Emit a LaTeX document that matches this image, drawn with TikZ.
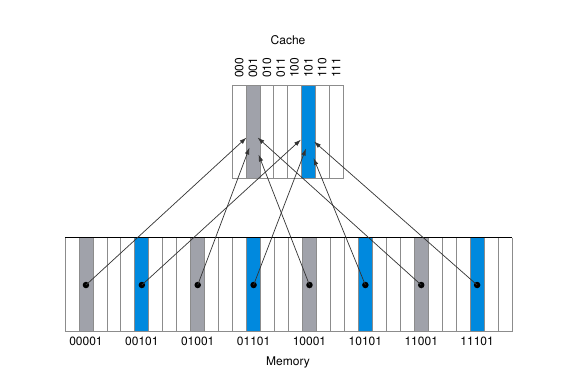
\documentclass[tikz,border=0pt]{standalone}
\usepackage{fontspec}
\setmainfont{TeX Gyre Heros}
\usetikzlibrary{arrows.meta}
\definecolor{slotgray}{RGB}{160,162,170}
\definecolor{slotblue}{RGB}{0,137,222}
\definecolor{divgray}{RGB}{140,140,140}
\begin{document}
\begin{tikzpicture}[x=1pt,y=-1pt,
  lbl/.style={font=\fontsize{12}{14}\selectfont, text=black, inner sep=0pt},
  dotnode/.style={circle, fill=black, inner sep=0pt, minimum size=6.5pt},
  divider/.style={draw=divgray, line width=0.8pt},
  mapline/.style={draw=black!80, line width=0.7pt, -{Latex[length=7pt,width=4.5pt]}}]
\useasboundingbox (0,0) rectangle (564,381);
\fill[white] (0,0) rectangle (564,381);
% ---------- Cache ----------
\def\cx{232.3}\def\cw{13.84}\def\ct{85}\def\cb{178.5}
\fill[slotgray] ({\cx+1*\cw},\ct) rectangle ({\cx+2*\cw},\cb);
\fill[slotblue] ({\cx+5*\cw},\ct) rectangle ({\cx+6*\cw},\cb);
\foreach \i in {1,...,7} \draw[divider] ({\cx+\i*\cw},\ct) -- ({\cx+\i*\cw},\cb);
\draw[divgray, line width=1pt] (\cx,\ct) rectangle ({\cx+8*\cw},\cb);
\foreach \t [count=\k from 0] in {000,001,010,011,100,101,110,111}
  \node[lbl, rotate=90, anchor=west] (c\k) at ({\cx+(\k+0.5)*\cw},78) {\t};
\node[lbl] (cachetitle) at (288,40) {Cache};
% ---------- Memory ----------
\def\mx{65}\def\mw{13.97}\def\mt{237.5}\def\mb{331}
\foreach \i in {1,9,17,25} \fill[slotgray] ({\mx+\i*\mw},\mt) rectangle ({\mx+(\i+1)*\mw},\mb);
\foreach \i in {5,13,21,29} \fill[slotblue] ({\mx+\i*\mw},\mt) rectangle ({\mx+(\i+1)*\mw},\mb);
\foreach \i in {1,...,31} \draw[divider] ({\mx+\i*\mw},\mt) -- ({\mx+\i*\mw},\mb);
\draw[divgray, line width=1pt] (\mx,\mt) -- (\mx,\mb) -- ({\mx+32*\mw},\mb) -- ({\mx+32*\mw},\mt);
\draw[black, line width=1.4pt] (\mx,\mt) -- ({\mx+32*\mw},\mt);
\foreach \i/\t in {1/00001,5/00101,9/01001,13/01101,17/10001,21/10101,25/11001,29/11101}{
  \node[dotnode] (m\i) at ({\mx+(\i+0.5)*\mw},285) {};
  \node[lbl] (a\i) at ({\mx+(\i+0.5)*\mw},341) {\t};
}
\node[lbl] (memtitle) at (288,362) {Memory};
% ---------- Arrow targets ----------
\coordinate (t1) at (246.5,137.5);
\coordinate (t9) at (249.5,147.5);
\coordinate (t17) at (258.5,154.5);
\coordinate (t25) at (257.5,137.5);
\coordinate (t5) at (301,139.5);
\coordinate (t13) at (306,148.5);
\coordinate (t21) at (313.5,158);
\coordinate (t29) at (314,141.5);
\foreach \i in {1,5,9,13,17,21,25,29} \draw[mapline] (m\i.center) -- (t\i);
\end{tikzpicture}
\end{document}
